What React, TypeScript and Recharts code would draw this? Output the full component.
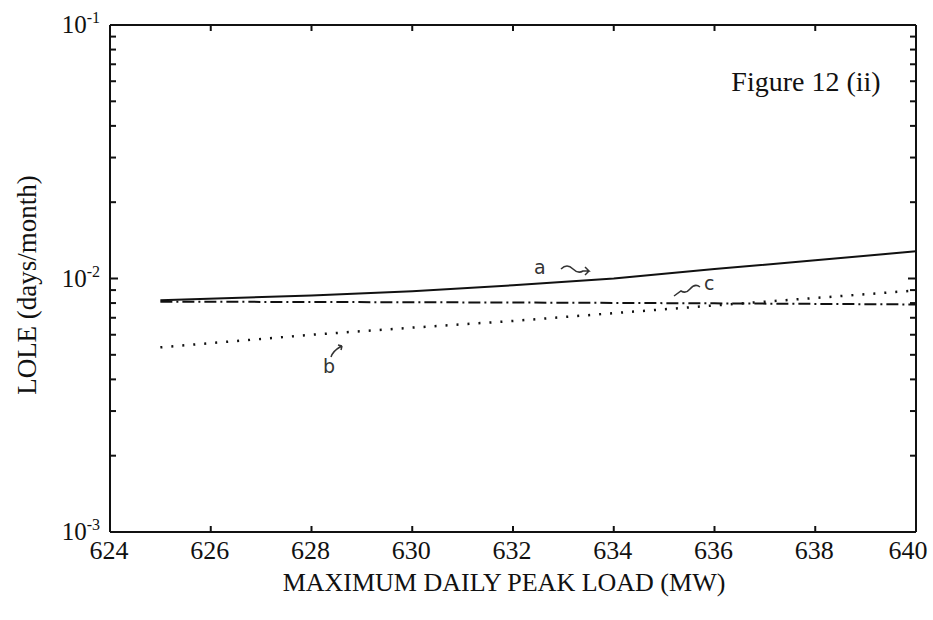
import React from 'react';
import { LineChart, Line, XAxis, YAxis, Customized } from 'recharts';

const loads = [625, 628, 630, 632, 634, 636, 638, 640];
const lineA = [0.0082, 0.00857, 0.0089, 0.0094, 0.01, 0.0109, 0.0118, 0.0128];
const lineB = [0.00535, 0.006, 0.0064, 0.0068, 0.0073, 0.00783, 0.00838, 0.00897];
const lineC = [0.0081, 0.00808, 0.00806, 0.00804, 0.00801, 0.00798, 0.00794, 0.0079];

const xTicks = [624, 626, 628, 630, 632, 634, 636, 638, 640];
const yTicks = [
  0.001, 0.002, 0.003, 0.004, 0.005, 0.006, 0.007, 0.008, 0.009,
  0.01, 0.02, 0.03, 0.04, 0.05, 0.06, 0.07, 0.08, 0.09, 0.1,
];
const decadeLabels: Record<string, string> = { '0.001': '-3', '0.01': '-2', '0.1': '-1' };

const data = loads.map((x, i) => ({ x, a: lineA[i], b: lineB[i], c: lineC[i] }));

const FONT = '"Liberation Serif", "Times New Roman", serif';
const serif = { fontFamily: FONT };

const LeftTick = (props: any) => {
  const { x, y, payload } = props;
  const exp = decadeLabels[String(payload.value)];
  const len = exp ? 8 : 6;
  return (
    <g>
      <line x1={x} y1={y} x2={x + len} y2={y} stroke="#111" strokeWidth={2} />
      {exp && (
        <text x={x - 10} y={y + 8} textAnchor="end" style={serif} fontSize={25} fill="#111">
          10<tspan fontSize={16} dy={-10}>{exp}</tspan>
        </text>
      )}
    </g>
  );
};

const RightTick = (props: any) => {
  const { x, y, payload } = props;
  const len = decadeLabels[String(payload.value)] ? 8 : 6;
  return <line x1={x} y1={y} x2={x - len} y2={y} stroke="#111" strokeWidth={2} />;
};

const BottomTick = (props: any) => {
  const { x, y, payload } = props;
  const shift = payload.value === 640 ? -8 : -1;
  return (
    <g>
      <line x1={x} y1={y} x2={x} y2={y - 6} stroke="#111" strokeWidth={2} />
      <text x={x + shift} y={y + 27} textAnchor="middle" style={serif} fontSize={26} fill="#111">
        {payload.value}
      </text>
    </g>
  );
};

const TopTick = (props: any) => {
  const { x, y } = props;
  return <line x1={x} y1={y} x2={x} y2={y + 6} stroke="#111" strokeWidth={2} />;
};

const Notes = () => (
  <g fill="#111">
    <text x={504} y={591} textAnchor="middle" style={serif} fontSize={26}>MAXIMUM DAILY PEAK LOAD (MW)</text>
    <text x={36} y={285} textAnchor="middle" style={serif} fontSize={27} transform="rotate(-90 36 285)">
      LOLE (days/month)
    </text>
    <text x={806} y={91} textAnchor="middle" style={serif} fontSize={28}>Figure 12 (ii)</text>
    <g style={{ fontFamily: '"DejaVu Sans", sans-serif' }} fontSize={19} fill="#333">
      <text x={534} y={274}>a</text>
      <text x={704} y={290}>c</text>
      <text x={323} y={373}>b</text>
    </g>
    <g fill="none" stroke="#333" strokeWidth={1.5}>
      <path d="M 561 269 q 6 -6 12 0 q 5 5 10 2 l 6 0 l -4 -4 m 4 4 l -4 4" />
      <path d="M 700 287 q -5 -4 -10 2 q -4 5 -9 2 l -7 5" />
      <path d="M 331 357 q 2 -6 9 -10 l 2 -1 m 0 0 l -4 -1 m 4 1 l -1 4" />
    </g>
  </g>
);

export default function App() {
  return (
    <div style={{ width: 933, height: 620, background: '#fff' }}>
      <style>{'body{margin:0}'}</style>
      <LineChart width={933} height={620} data={data} margin={{ top: 0, right: 0, bottom: 0, left: 0 }}>
        <XAxis
          xAxisId="b"
          dataKey="x"
          type="number"
          domain={[624, 640]}
          ticks={xTicks}
          height={88}
          tickLine={false}
          tickSize={0}
          tickMargin={0}
          tick={<BottomTick />}
          stroke="#111"
          strokeWidth={2}
          allowDataOverflow
        />
        <XAxis
          xAxisId="t"
          orientation="top"
          dataKey="x"
          type="number"
          domain={[624, 640]}
          ticks={xTicks}
          height={25}
          tickLine={false}
          tickSize={0}
          tickMargin={0}
          tick={<TopTick />}
          stroke="#111"
          strokeWidth={2}
          allowDataOverflow
        />
        <YAxis
          yAxisId="l"
          scale="log"
          type="number"
          domain={[0.001, 0.1]}
          ticks={yTicks}
          interval={0}
          width={110}
          tickLine={false}
          tickSize={0}
          tickMargin={0}
          tick={<LeftTick />}
          stroke="#111"
          strokeWidth={2}
          allowDataOverflow
        />
        <YAxis
          yAxisId="r"
          orientation="right"
          scale="log"
          type="number"
          domain={[0.001, 0.1]}
          ticks={yTicks}
          interval={0}
          width={17}
          tickLine={false}
          tickSize={0}
          tickMargin={0}
          tick={<RightTick />}
          stroke="#111"
          strokeWidth={2}
          allowDataOverflow
        />
        <Line xAxisId="b" yAxisId="l" type="linear" dataKey="a" stroke="#111" strokeWidth={2} dot={false} isAnimationActive={false} />
        <Line xAxisId="b" yAxisId="l" type="linear" dataKey="c" stroke="#111" strokeWidth={2} strokeDasharray="12 4 2 4" dot={false} isAnimationActive={false} />
        <Line xAxisId="b" yAxisId="l" type="linear" dataKey="b" stroke="#111" strokeWidth={2.5} strokeDasharray="2 9" dot={false} isAnimationActive={false} />
        <Customized component={Notes} />
      </LineChart>
    </div>
  );
}
